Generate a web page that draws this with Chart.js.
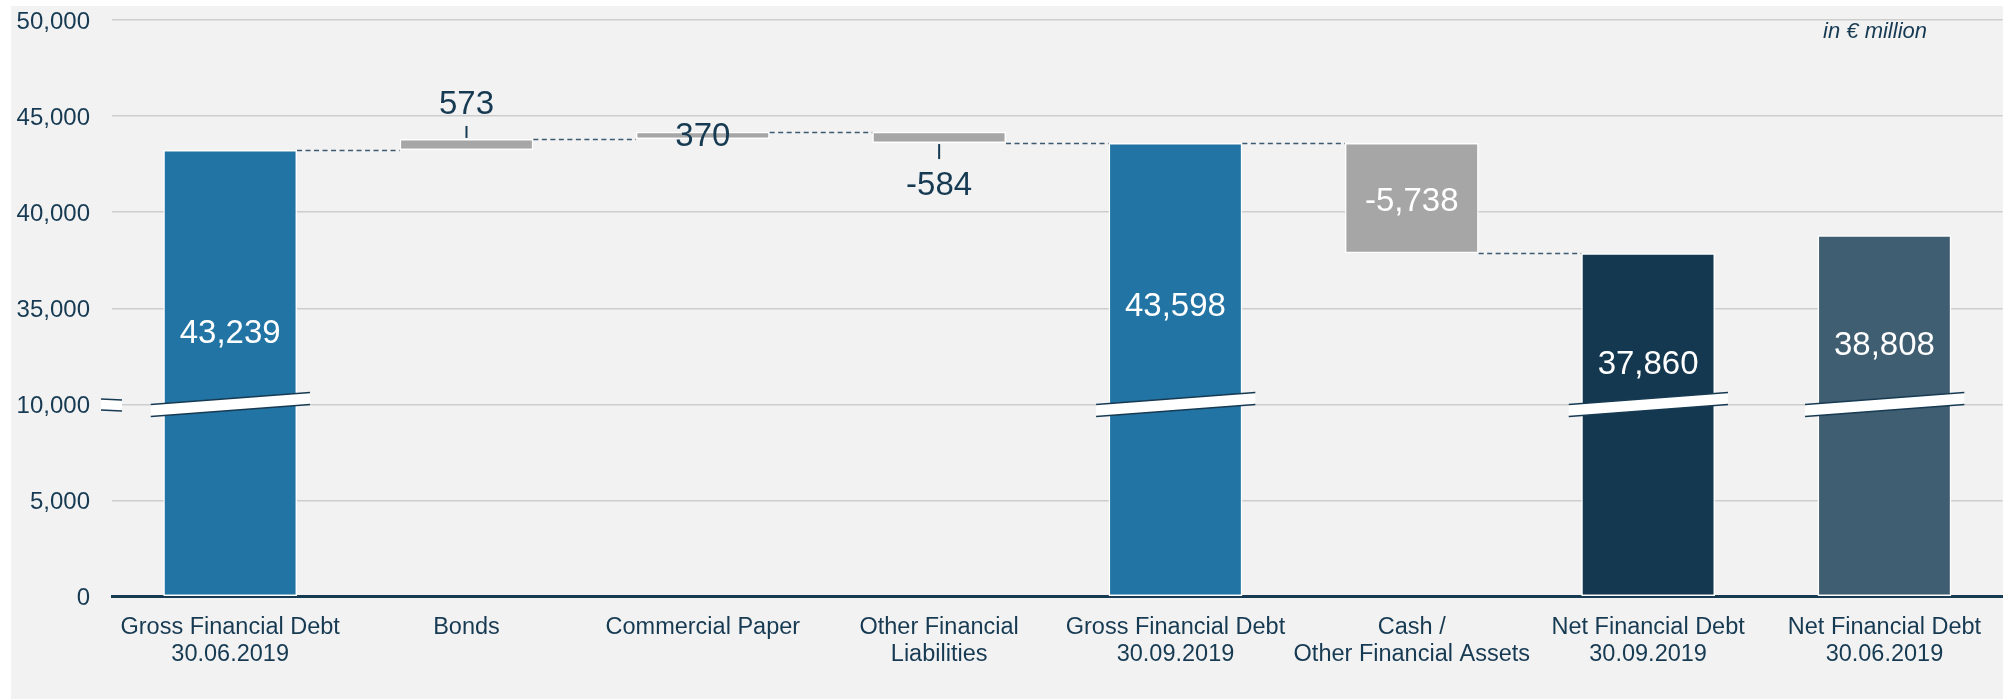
<!DOCTYPE html>
<html><head><meta charset="utf-8">
<script src="https://cdn.jsdelivr.net/npm/chart.js@4.4.1/dist/chart.umd.min.js"></script>
<style>html,body{margin:0;padding:0;background:#fff;} canvas{display:block;}</style>
</head><body>
<canvas id="c" width="2008" height="699"></canvas>
<script>
// ---- data ----
const categories = [
  ['Gross Financial Debt', '30.06.2019'],
  'Bonds',
  'Commercial Paper',
  ['Other Financial', 'Liabilities'],
  ['Gross Financial Debt', '30.09.2019'],
  ['Cash /', 'Other Financial Assets'],
  ['Net Financial Debt', '30.09.2019'],
  ['Net Financial Debt', '30.06.2019']
];
const values = [43239, 573, 370, -584, 43598, -5738, 37860, 38808];
const barKinds = ['total', 'delta', 'delta', 'delta', 'total', 'delta', 'total', 'total'];
const yTickValues = [0, 5000, 10000, 35000, 40000, 45000, 50000];
const axisBreak = [10000, 30000];
const unitNote = 'in \u20AC million';

// ---- styles ----
const FONT = "'Liberation Sans', Arial, sans-serif";
const NAVY = '#173a53';
const barColors = ['#2174a4', '#a6a6a6', '#a6a6a6', '#a6a6a6', '#2174a4', '#a6a6a6', '#13384f', '#405e71'];
const labelPlacement = ['inside', 'above', 'center', 'below', 'inside', 'inside', 'inside', 'inside'];
const labelShift = [184, 34, 2, 42.7, 164, 58.7, 111.6, 110.8];

// ---- waterfall ranges built from the values ----
let running = 0;
const ranges = values.map((v, i) => {
  if (barKinds[i] === 'total') { running = v; return [0, v]; }
  const r = [running, running + v];
  running += v;
  return r;
});

// ---- broken linear scale ----
const gap = axisBreak[1] - axisBreak[0];
const toAxis = v => v <= axisBreak[0] ? v : (v >= axisBreak[1] ? v - gap : axisBreak[0]);
const fromAxis = a => a <= axisBreak[0] ? a : a + gap;
class BrokenLinearScale extends Chart.LinearScale {
  buildTicks() { return yTickValues.map(value => ({ value })); }
  getPixelForValue(value) {
    const lo = toAxis(this.min), hi = toAxis(this.max);
    return this.getPixelForDecimal((toAxis(value) - lo) / (hi - lo));
  }
  getValueForPixel(pixel) {
    const lo = toAxis(this.min), hi = toAxis(this.max);
    return fromAxis(lo + this.getDecimalForPixel(pixel) * (hi - lo));
  }
}
BrokenLinearScale.id = 'brokenLinear';
BrokenLinearScale.defaults = {};
Chart.register(BrokenLinearScale);

const fmt = v => v.toLocaleString('en-US');

const decor = {
  id: 'waterfallDecor',
  beforeDraw(chart) {
    const { ctx, width, height } = chart;
    ctx.save();
    ctx.fillStyle = '#ffffff';
    ctx.fillRect(0, 0, width, height);
    ctx.fillStyle = '#f2f2f2';
    ctx.fillRect(11, 6, 1992, height - 6);
    ctx.restore();
  },
  afterDatasetsDraw(chart) {
    const { ctx } = chart;
    const y = chart.scales.y;
    const bars = chart.getDatasetMeta(0).data;
    ctx.save();
    // connectors
    ctx.strokeStyle = '#3d5a70';
    ctx.lineWidth = 1.5;
    ctx.setLineDash([5, 3.5]);
    for (let i = 0; i < bars.length - 1; i++) {
      const level = ranges[i][1];
      const next = ranges[i + 1];
      const ok = barKinds[i + 1] === 'delta' ? next[0] === level : next[1] === level;
      if (!ok) continue;
      const py = Math.round(y.getPixelForValue(level)) + 0.5;
      ctx.beginPath();
      ctx.moveTo(bars[i].x + bars[i].width / 2, py);
      ctx.lineTo(bars[i + 1].x - bars[i + 1].width / 2, py);
      ctx.stroke();
    }
    ctx.setLineDash([]);
    // axis break bands across bars
    const pb = y.getPixelForValue(axisBreak[0]);
    const drawBand = (xl, xr, yl, yr, h) => {
      ctx.fillStyle = '#ffffff';
      ctx.beginPath();
      ctx.moveTo(xl, yl); ctx.lineTo(xr, yr); ctx.lineTo(xr, yr + h); ctx.lineTo(xl, yl + h);
      ctx.closePath(); ctx.fill();
      ctx.strokeStyle = NAVY; ctx.lineWidth = 1.5;
      ctx.beginPath(); ctx.moveTo(xl, yl); ctx.lineTo(xr, yr); ctx.stroke();
      ctx.beginPath(); ctx.moveTo(xl, yl + h); ctx.lineTo(xr, yr + h); ctx.stroke();
    };
    bars.forEach((b, i) => {
      const lo = Math.min(...ranges[i]), hi = Math.max(...ranges[i]);
      if (lo < axisBreak[0] && hi > axisBreak[1]) {
        drawBand(b.x - b.width / 2 - 12.5, b.x + b.width / 2 + 13, pb, pb - 12, 12);
      }
    });
    // break mark on the axis
    drawBand(101, 122, pb - 5.5, pb - 4.5, 11);
    // value labels
    ctx.font = '33px ' + FONT;
    ctx.textAlign = 'center';
    ctx.textBaseline = 'middle';
    bars.forEach((b, i) => {
      const top = Math.min(b.y, b.base), bottom = Math.max(b.y, b.base);
      const mode = labelPlacement[i];
      let ly;
      ctx.fillStyle = NAVY;
      ctx.strokeStyle = NAVY;
      ctx.lineWidth = 2;
      if (mode === 'inside') { ly = top + labelShift[i]; ctx.fillStyle = '#ffffff'; }
      else if (mode === 'center') { ly = (top + bottom) / 2 + labelShift[i]; }
      else if (mode === 'above') {
        ly = top - labelShift[i];
        ctx.beginPath(); ctx.moveTo(b.x, top - 1); ctx.lineTo(b.x, top - 13); ctx.stroke();
      } else {
        ly = bottom + labelShift[i];
        ctx.beginPath(); ctx.moveTo(b.x, bottom + 1); ctx.lineTo(b.x, bottom + 16); ctx.stroke();
      }
      ctx.fillText(fmt(values[i]), b.x, ly);
    });
    // unit note
    ctx.font = 'italic 22px ' + FONT;
    ctx.fillStyle = NAVY;
    ctx.textAlign = 'right';
    ctx.textBaseline = 'alphabetic';
    ctx.fillText(unitNote, 1927, 38);
    ctx.restore();
  }
};

new Chart(document.getElementById('c'), {
  type: 'bar',
  data: {
    labels: categories,
    datasets: [{
      data: ranges,
      backgroundColor: barColors,
      borderColor: '#ffffff',
      borderWidth: 1.5,
      borderSkipped: false,
      barPercentage: 0.566,
      categoryPercentage: 1
    }]
  },
  options: {
    responsive: false,
    animation: false,
    devicePixelRatio: 1,
    layout: { padding: { top: 20, right: 5.4, left: 0, bottom: 0 } },
    plugins: { legend: { display: false }, tooltip: { enabled: false } },
    scales: {
      x: {
        z: 1,
        grid: { display: false },
        border: { display: true, color: NAVY, width: 3 },
        ticks: { color: NAVY, font: { family: FONT, size: 23.5, lineHeight: 1.15 }, padding: 9, maxRotation: 0, autoSkip: false },
        afterFit: s => { s.height = 102.3; s.paddingLeft = 0; s.paddingRight = 0; }
      },
      y: {
        type: 'brokenLinear',
        min: 0,
        max: 50000,
        grid: {
          drawTicks: false,
          lineWidth: 1.5,
          color: ctx => (ctx.tick && ctx.tick.value === 0) ? 'rgba(0,0,0,0)' : '#cdcdcd'
        },
        border: { display: false },
        ticks: { color: NAVY, font: { family: FONT, size: 24 }, padding: 22, labelOffset: 2, callback: v => fmt(v) },
        afterFit: s => { s.width = 112; s.paddingTop = 0; s.paddingBottom = 0; }
      }
    }
  },
  plugins: [decor]
});
</script>
</body></html>
